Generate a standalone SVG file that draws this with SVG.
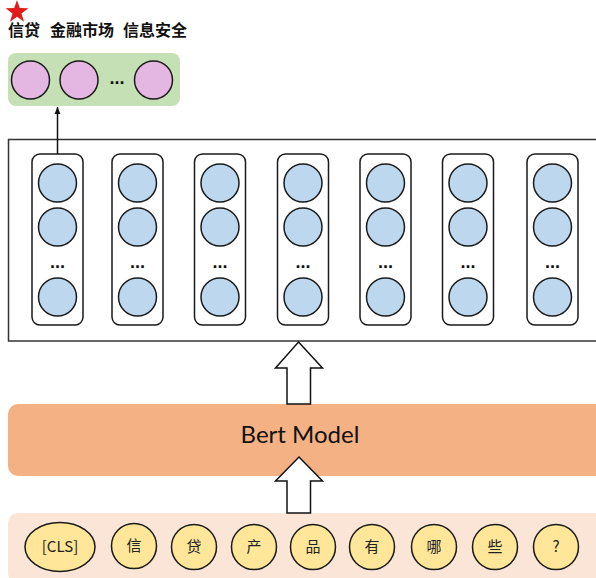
<svg xmlns="http://www.w3.org/2000/svg" width="596" height="578" viewBox="0 0 596 578">
<style>
.col{fill:#fff;stroke:#1a1a1a;stroke-width:1.5}
.hc{fill:#BDD7EE;stroke:#1a1a1a;stroke-width:1.5}
.oc{fill:#E3B7E1;stroke:#1a1a1a;stroke-width:1.5}
.tk{fill:#FFE699;stroke:#1a1a1a;stroke-width:1.5}
.dots{font-family:"Liberation Sans",Arial,sans-serif;font-weight:bold;font-size:18px;fill:#111;text-anchor:middle}
.tt{font-family:"Noto Sans CJK SC","Noto Sans",sans-serif;font-size:15px;fill:#222;text-anchor:middle}
.hollow{fill:#fff;stroke:#111;stroke-width:1.5;stroke-linejoin:miter}
</style>
<defs>
<marker id="ah" markerWidth="8" markerHeight="8" refX="7" refY="4" orient="auto" markerUnits="userSpaceOnUse">
<path d="M0,1 L7,4 L0,7 Z" fill="#111"/>
</marker>
<g id="colTpl">
<rect class="col" x="-25.5" y="154" width="51" height="171" rx="8"/>
<circle class="hc" cx="0" cy="183" r="19"/>
<circle class="hc" cx="0" cy="227" r="19"/>
<text class="dots" x="0" y="268">...</text>
<circle class="hc" cx="0" cy="297" r="19"/>
</g>
</defs>

<g id="title">
<polygon fill="#E01B1B" points="17,0 19.8,8.1 28.4,8.3 21.5,13.5 24,21.7 17,16.8 10,21.7 12.5,13.5 5.6,8.3 14.2,8.1"/>
<text font-family="Noto Sans CJK SC,sans-serif" font-weight="bold" font-size="16" fill="#111" y="36"><tspan x="8">信贷</tspan><tspan x="50">金融市场</tspan><tspan x="123">信息安全</tspan></text>
</g>

<g id="output">
<rect x="8" y="53" width="172" height="53" rx="8" fill="#C5E0B4"/>
<circle class="oc" cx="30.5" cy="80" r="19"/>
<circle class="oc" cx="79" cy="80" r="19"/>
<text class="dots" x="117" y="84">...</text>
<circle class="oc" cx="153.5" cy="80" r="19"/>
</g>

<g id="hidden-box">
<rect x="8.5" y="139.5" width="600" height="201.5" fill="#fff" stroke="#333" stroke-width="1.5"/>
</g>

<g id="columns">
<use href="#colTpl" x="57.5"/>
<use href="#colTpl" x="137.5"/>
<use href="#colTpl" x="220"/>
<use href="#colTpl" x="303"/>
<use href="#colTpl" x="385.5"/>
<use href="#colTpl" x="468"/>
<use href="#colTpl" x="552.5"/>
</g>

<g id="bert">
<rect x="8" y="404" width="600" height="72" rx="10" fill="#F4B183"/>
<text x="300" y="437" font-family="Lato,'Open Sans',sans-serif" font-size="24" fill="#111" text-anchor="middle" dominant-baseline="middle">Bert Model</text>
</g>

<g id="tokens">
<rect x="8" y="513" width="600" height="70" rx="10" fill="#FBE5D6"/>
<ellipse class="tk" cx="60" cy="547" rx="35" ry="24.5"/>
<text class="tt" x="60" y="552" font-family="Lato,sans-serif">[CLS]</text>
<circle class="tk" cx="134" cy="546" r="22.5"/><text class="tt" x="134" y="551">信</text>
<circle class="tk" cx="194" cy="547" r="22.5"/><text class="tt" x="194" y="552">贷</text>
<circle class="tk" cx="254" cy="547" r="22.5"/><text class="tt" x="254" y="552">产</text>
<circle class="tk" cx="313" cy="547" r="22.5"/><text class="tt" x="313" y="552">品</text>
<circle class="tk" cx="372" cy="547" r="22.5"/><text class="tt" x="372" y="552">有</text>
<circle class="tk" cx="434" cy="547" r="22.5"/><text class="tt" x="434" y="552">哪</text>
<circle class="tk" cx="495" cy="547" r="22.5"/><text class="tt" x="495" y="552">些</text>
<circle class="tk" cx="556" cy="547" r="22.5"/><text class="tt" x="556" y="552">?</text>
</g>

<g id="connectors">
<line x1="57.5" y1="154" x2="57.5" y2="107" stroke="#111" stroke-width="1.5" marker-end="url(#ah)"/>
<polygon class="hollow" points="298.5,342 322.5,368 310.5,368 310.5,404 287,404 287,368 275.5,368"/>
<polygon class="hollow" points="299,457 322.5,481 310.5,481 310.5,513 287,513 287,481 275.5,481"/>
</g>
</svg>
